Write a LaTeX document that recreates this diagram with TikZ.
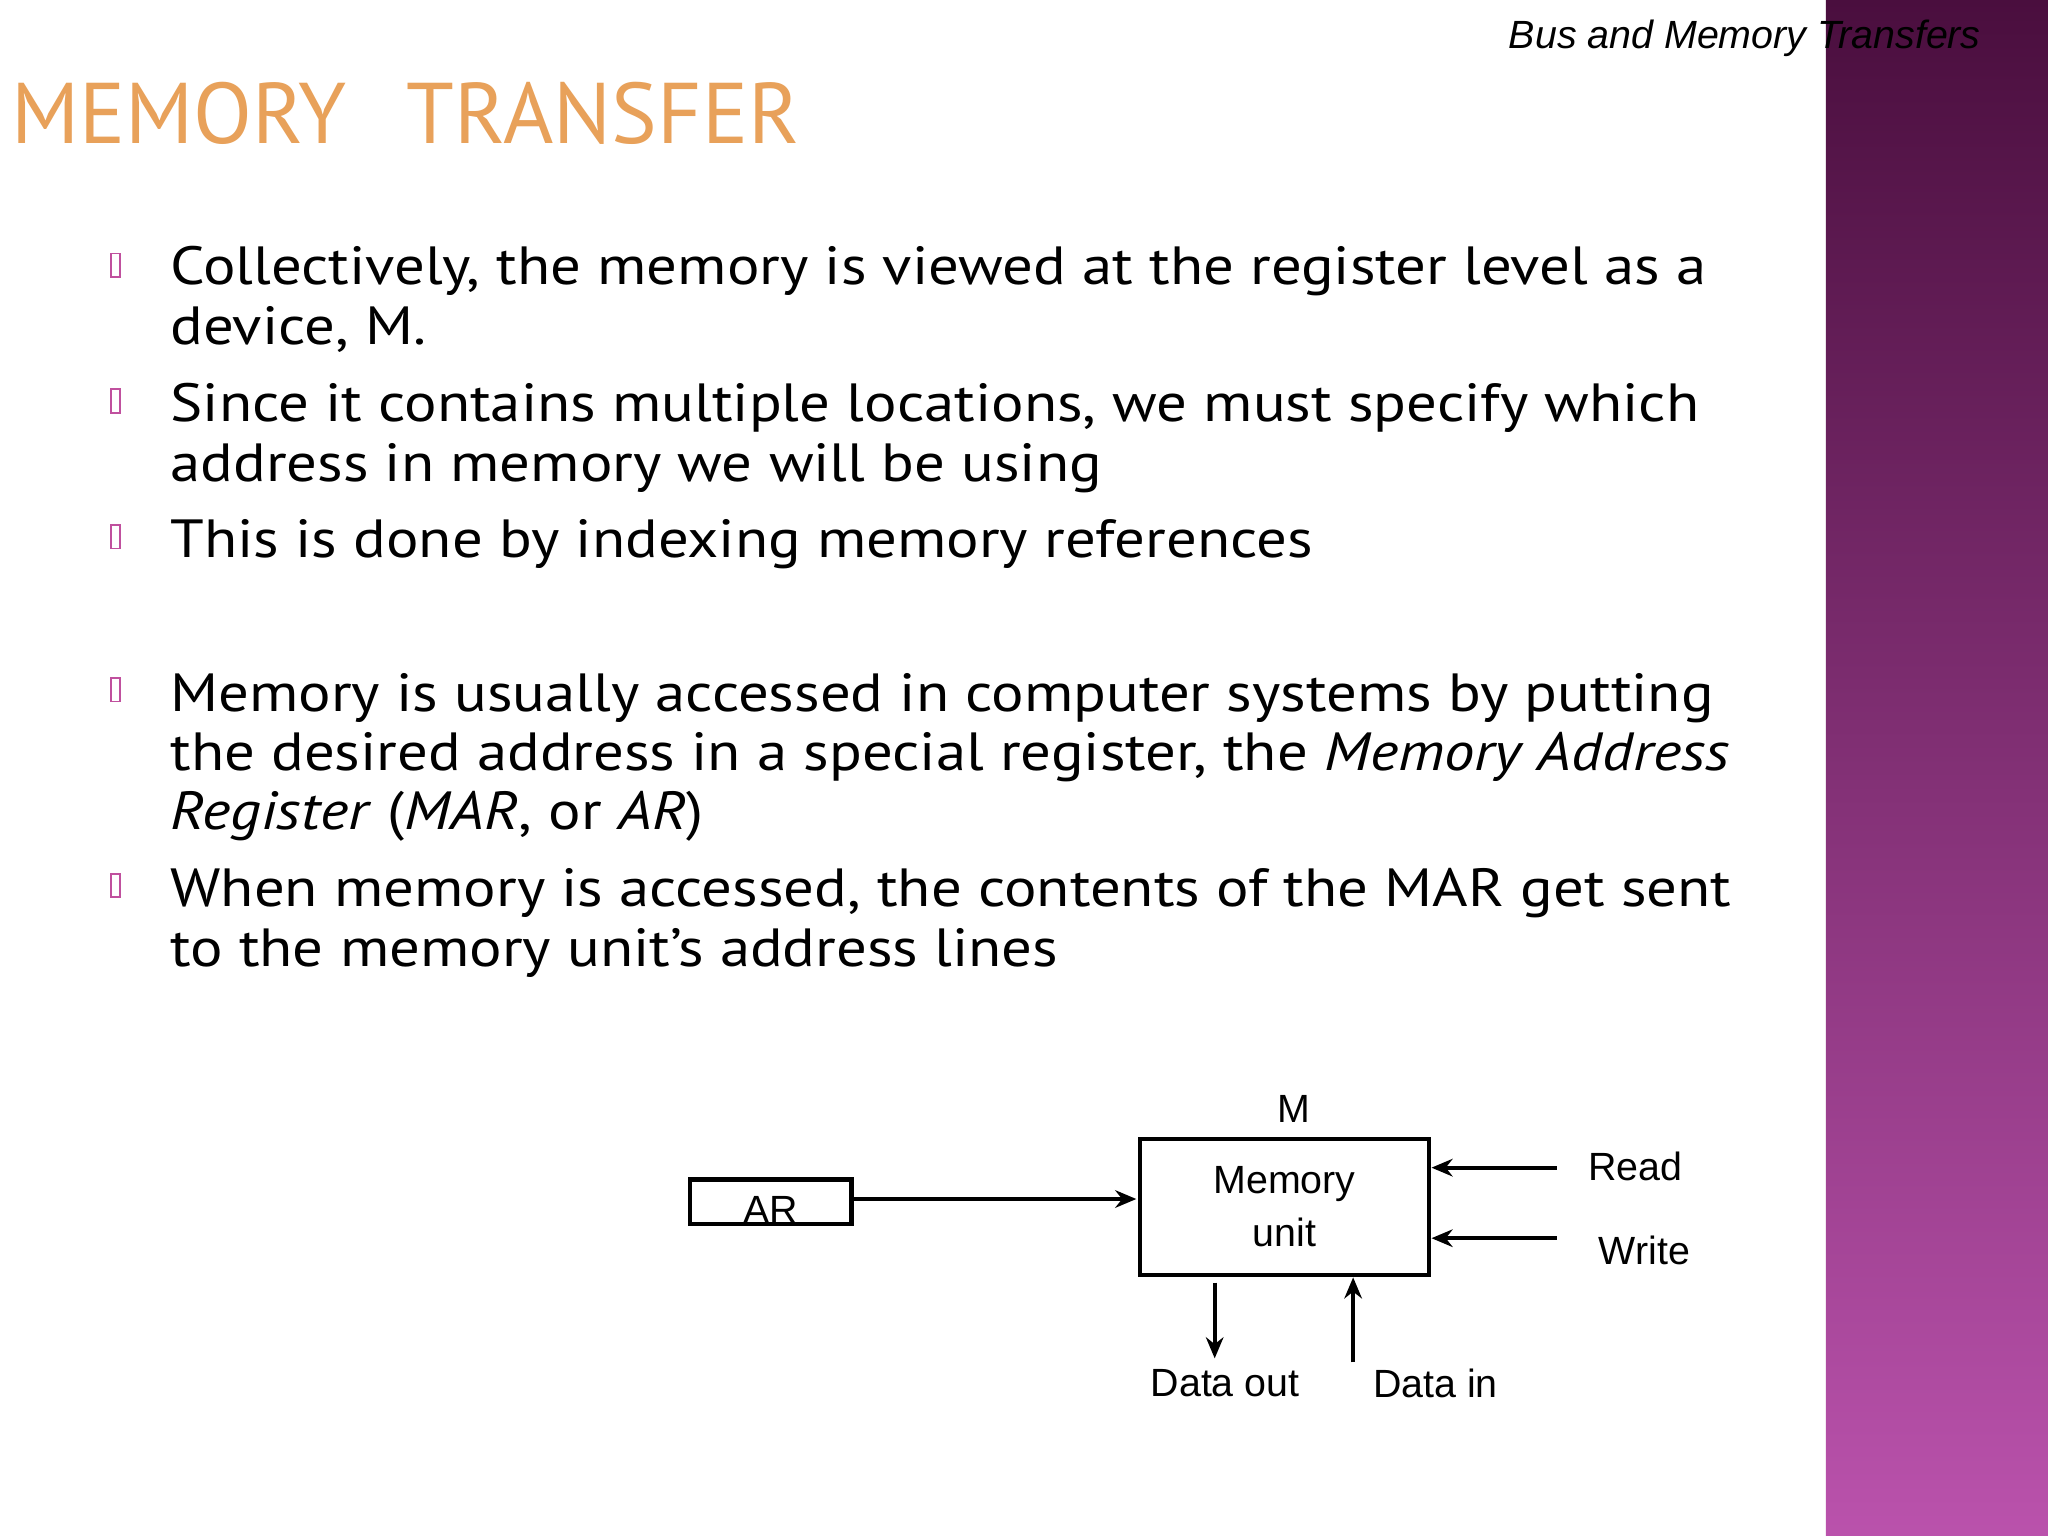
\documentclass[tikz,border=0pt]{standalone}
\usepackage{fontspec}
\setmainfont{PT Sans}
\newfontfamily\bodyf{PT Sans}[FakeStretch=1.13]
\newfontfamily\arialf{Liberation Sans}
\usetikzlibrary{arrows.meta}
\definecolor{bandtop}{HTML}{4A0E3E}
\definecolor{bandbot}{HTML}{BA52AC}
\definecolor{titlec}{HTML}{E8A15A}
\definecolor{bulc}{HTML}{C0509E}
\begin{document}
\begin{tikzpicture}[x=0.01306cm,y=-0.01306cm,
  body/.style={anchor=base west,inner sep=0,font=\bodyf\fontsize{15.3}{18}\selectfont},
  dia/.style={font=\arialf\fontsize{11.2}{13}\selectfont,inner sep=0},
  bul/.style={draw=bulc,line width=0.5pt},
  ln/.style={line width=1.2pt},
  arr/.style={line width=1.2pt,-{Stealth[length=6pt,width=5pt]}}]
\useasboundingbox (0,0) rectangle (1568,1176);
\fill[white] (0,0) rectangle (1568,1176);
\shade[top color=bandtop,bottom color=bandbot] (1398,0) rectangle (1568,1176);
\node[anchor=base east,inner sep=0,font=\arialf\itshape\fontsize{11.2}{13}\selectfont] (hdr) at (1517,37) {Bus and Memory Transfers};
\node[anchor=base west,inner sep=0,text=titlec,font=\fontsize{24.5}{28}\selectfont] (title) at (8,110) {MEMORY\hspace{0.7em}TRANSFER};
\foreach \y in {203,307,411,528,678}{\draw[bul] (85,\y-9) rectangle (92,\y+9);}
\node[body] (l1) at (130,218) {Collectively, the memory is viewed at the register level as a};
\node[body] (l2) at (130,264) {device, M.};
\node[body] (l3) at (130,323) {Since it contains multiple locations, we must specify which};
\node[body] (l4) at (130,369) {address in memory we will be using};
\node[body] (l5) at (130,427) {This is done by indexing memory references};
\node[body] (l6) at (130,545) {Memory is usually accessed in computer systems by putting};
\node[body] (l7) at (130,590) {the desired address in a special register, the \textit{Memory Address}};
\node[body] (l8) at (130,635) {\textit{Register} (\textit{MAR}, or \textit{AR})};
\node[body] (l9) at (130,694) {When memory is accessed, the contents of the MAR get sent};
\node[body] (l10) at (130,740) {to the memory unit’s address lines};
% diagram
\draw[ln] (528,903) rectangle (652,937);
\node[dia] (ar) at (590,926) {AR};
\coordinate (arout) at (652,918);
\node[draw,ln,minimum width=221*0.01306cm,minimum height=104*0.01306cm,align=center,dia] (mem) at (983.5,924) {Memory\\[2pt]unit};
\node[dia] (M) at (991,849) {M};
\coordinate (memin) at (870,918);
\draw[arr] (arout) -- (memin);
\coordinate (rd) at (1192,894); \coordinate (rdE) at (1096,894);
\coordinate (wr) at (1192,948); \coordinate (wrE) at (1096,948);
\draw[arr] (rd) -- (rdE);
\draw[arr] (wr) -- (wrE);
\node[dia] (read) at (1252,893) {Read};
\node[dia] (write) at (1259,957) {Write};
\coordinate (do1) at (930,982); \coordinate (do2) at (930,1040);
\coordinate (di1) at (1036,1043); \coordinate (di2) at (1036,978);
\draw[arr] (do1) -- (do2);
\draw[arr] (di1) -- (di2);
\node[dia] (dout) at (938,1059) {Data out};
\node[dia] (din) at (1099,1059) {Data in};
\end{tikzpicture}
\end{document}
